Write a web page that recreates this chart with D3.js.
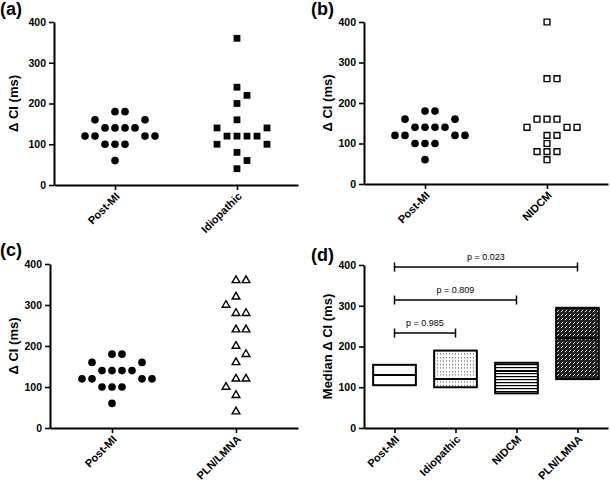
<!DOCTYPE html>
<html>
<head>
<meta charset="utf-8">
<script src="https://cdn.jsdelivr.net/npm/d3@7"></script>
<style>
    body { margin: 0; background: #fff; }
    svg { font-family: "Liberation Sans", Arial, sans-serif; }
</style>
</head>
<body>
<div id="chart"></div>
<script>
// values (ms)
var groups = ["Post-MI", "Idiopathic", "NIDCM", "PLN/LMNA"];
var postMI = [180, 180, 160, 160, 140, 140, 140, 140, 120, 120, 120, 120, 100, 100, 100, 60];
var idiopathic = [360, 240, 220, 200, 160, 140, 140, 120, 120, 120, 120, 100, 100, 80, 60, 40];
var nidcm = [400, 260, 260, 160, 160, 160, 140, 140, 140, 120, 120, 100, 80, 80, 80, 60];
var plnLmna = [360, 360, 320, 300, 280, 280, 240, 240, 200, 180, 160, 120, 120, 100, 80, 40];
var yTicks = [0, 100, 200, 300, 400];
var compareTo = ["Idiopathic", "NIDCM", "PLN/LMNA"];
var pLabels = ["p = 0.985", "p = 0.809", "p = 0.023"];
var bracketLevels = [233, 314, 395];

var seriesByGroup = {
    "Post-MI": postMI,
    "Idiopathic": idiopathic,
    "NIDCM": nidcm,
    "PLN/LMNA": plnLmna
};

var width = 610, height = 485;
var svg = d3.select("#chart").append("svg")
    .attr("width", width)
    .attr("height", height);

// fills for the floating bars in (d)
var defs = svg.append("defs");
var dots = defs.append("pattern").attr("id", "dots")
    .attr("patternUnits", "userSpaceOnUse").attr("width", 3).attr("height", 3.5);
dots.append("rect").attr("width", 3).attr("height", 3.5).attr("fill", "#fff");
dots.append("rect").attr("x", 1).attr("y", 1).attr("width", 1).attr("height", 1).attr("fill", "#444");

var hlines = defs.append("pattern").attr("id", "hlines")
    .attr("patternUnits", "userSpaceOnUse").attr("width", 4).attr("height", 3);
hlines.append("rect").attr("width", 4).attr("height", 3).attr("fill", "#fff");
hlines.append("rect").attr("width", 4).attr("height", 1.2).attr("fill", "#000");

var hatch = defs.append("pattern").attr("id", "hatch")
    .attr("patternUnits", "userSpaceOnUse").attr("width", 4).attr("height", 4);
hatch.append("rect").attr("width", 4).attr("height", 4).attr("fill", "#1a1a1a");
hatch.append("path").attr("d", "M0.8,3.2L3.2,0.8").attr("stroke", "#fff").attr("stroke-width", 1);

var panels = [
    { tag: "(a)", tx: 0, ty: 15, left: 54, top: 22, w: 244, h: 163, cats: ["Post-MI", "Idiopathic"], ylab: "Δ CI (ms)", lx: 13 },
    { tag: "(b)", tx: 311, ty: 15, left: 364, top: 22, w: 244, h: 162, cats: ["Post-MI", "NIDCM"], ylab: "Δ CI (ms)", lx: 327 },
    { tag: "(c)", tx: 0, ty: 256, left: 50, top: 264, w: 248, h: 164, cats: ["Post-MI", "PLN/LMNA"], ylab: "Δ CI (ms)", lx: 13 },
    { tag: "(d)", tx: 311, ty: 261, left: 364, top: 265, w: 244, h: 163, cats: groups, ylab: "Median Δ CI (ms)", lx: 327 }
];

var symbols = {
    "Post-MI": { type: d3.symbolCircle, size: 46, fill: "#000", stroke: "none" },
    "Idiopathic": { type: d3.symbolSquare, size: 46, fill: "#000", stroke: "none" },
    "NIDCM": { type: d3.symbolSquare, size: 34, fill: "#fff", stroke: "#000" },
    "PLN/LMNA": { type: d3.symbolTriangle, size: 26, fill: "#fff", stroke: "#000" }
};

// GraphPad style column scatter: rows of equal values spread into columns
function swarm(values, y, step) {
    var rows = d3.rollups(values, v => v.length, d => d);
    rows.sort((a, b) => b[1] - a[1] || b[0] - a[0]);
    var used = new Map();
    var out = [];
    var cands = [0];
    for (var k = 1; k <= 12; k++) cands.push(k, -k);
    rows.forEach(function(r) {
        var v = r[0], n = r[1];
        var blocked = new Set();
        used.forEach(function(cols, u) {
            if (u !== v && Math.abs(y(u) - y(v)) < step) cols.forEach(c => blocked.add(c));
        });
        var limit = n === 1 ? 1 : n + 1;
        var pick = cands.filter(c => Math.abs(c) <= limit && !blocked.has(c)).slice(0, n);
        cands.forEach(function(c) {
            if (pick.length < n && pick.indexOf(c) < 0) pick.push(c);
        });
        used.set(v, pick);
        pick.forEach(c => out.push({ value: v, slot: c }));
    });
    return out;
}

// quartiles the way Prism does it, position (n+1)p
function quart(sorted, p) {
    var pos = (sorted.length + 1) * p;
    var i = Math.floor(pos), f = pos - i;
    if (i < 1) return sorted[0];
    if (i >= sorted.length) return sorted[sorted.length - 1];
    return sorted[i - 1] + f * (sorted[i] - sorted[i - 1]);
}

function drawAxes(g, p, x, y) {
    var ya = g.append("g").call(d3.axisLeft(y).tickValues(yTicks).tickSize(5).tickSizeOuter(0).tickPadding(3));
    var xa = g.append("g").attr("transform", `translate(0,${p.h})`)
        .call(d3.axisBottom(x).tickSize(5).tickSizeOuter(0));
    [ya, xa].forEach(function(a) {
        a.select(".domain").attr("stroke-width", 2);
        a.selectAll(".tick line").attr("stroke-width", 1.6);
        a.selectAll("text").style("font-size", "10.5px").style("font-weight", "bold").attr("fill", "#000");
    });
    xa.selectAll("text")
        .attr("y", 0).attr("dy", 0)
        .attr("text-anchor", "end")
        .attr("transform", "translate(5,12) rotate(-45)")
        .style("font-size", "11px");

    svg.append("text")
        .attr("transform", `translate(${p.lx},${p.top + p.h / 2}) rotate(-90)`)
        .attr("text-anchor", "middle")
        .attr("dy", "0.35em")
        .style("font-size", "13px")
        .style("font-weight", "bold")
        .text(p.ylab);

    svg.append("text")
        .attr("x", p.tx).attr("y", p.ty)
        .style("font-size", "18px")
        .style("font-weight", "bold")
        .text(p.tag);
}

panels.forEach(function(p, pi) {
    var g = svg.append("g").attr("transform", `translate(${p.left},${p.top})`);
    var x = d3.scalePoint().domain(p.cats).range([0, p.w]).padding(0.5);
    var y = d3.scaleLinear().domain([0, 400]).range([p.h, 0]);

    if (pi < 3) {
        p.cats.forEach(function(cat) {
            var s = symbols[cat];
            g.append("g").selectAll("path")
                .data(swarm(seriesByGroup[cat], y, 10))
                .join("path")
                .attr("transform", d => `translate(${x(cat) + d.slot * 10},${y(d.value)})`)
                .attr("d", d3.symbol(s.type, s.size))
                .attr("fill", s.fill)
                .attr("stroke", s.stroke)
                .attr("stroke-width", 1.4);
        });
    } else {
        var fills = ["#fff", "url(#dots)", "url(#hlines)", "url(#hatch)"];
        var bw = x.step() * 0.7;
        var stats = groups.map(function(cat) {
            var s = seriesByGroup[cat].slice().sort(d3.ascending);
            return { cat: cat, q1: quart(s, 0.25), med: quart(s, 0.5), q3: quart(s, 0.75) };
        });
        g.selectAll("rect.box").data(stats).join("rect")
            .attr("class", "box")
            .attr("x", d => x(d.cat) - bw / 2)
            .attr("width", bw)
            .attr("y", d => y(d.q3))
            .attr("height", d => y(d.q1) - y(d.q3))
            .attr("fill", (d, i) => fills[i])
            .attr("stroke", "#000")
            .attr("stroke-width", 2);
        g.selectAll("line.med").data(stats).join("line")
            .attr("class", "med")
            .attr("x1", d => x(d.cat) - bw / 2)
            .attr("x2", d => x(d.cat) + bw / 2)
            .attr("y1", d => y(d.med))
            .attr("y2", d => y(d.med))
            .attr("stroke", "#000")
            .attr("stroke-width", 2);

        compareTo.forEach(function(other, i) {
            var x1 = x("Post-MI"), x2 = x(other), yy = y(bracketLevels[i]);
            var br = g.append("g").attr("stroke", "#000").attr("stroke-width", 1.5);
            br.append("line").attr("x1", x1).attr("x2", x2).attr("y1", yy).attr("y2", yy);
            br.append("line").attr("x1", x1).attr("x2", x1).attr("y1", yy - 4.5).attr("y2", yy + 4.5);
            br.append("line").attr("x1", x2).attr("x2", x2).attr("y1", yy - 4.5).attr("y2", yy + 4.5);
            g.append("text")
                .attr("x", (x1 + x2) / 2)
                .attr("y", yy - 7)
                .attr("text-anchor", "middle")
                .style("font-size", "9px")
                .text(pLabels[i]);
        });
    }

    drawAxes(g, p, x, y);
});
</script>
</body>
</html>
